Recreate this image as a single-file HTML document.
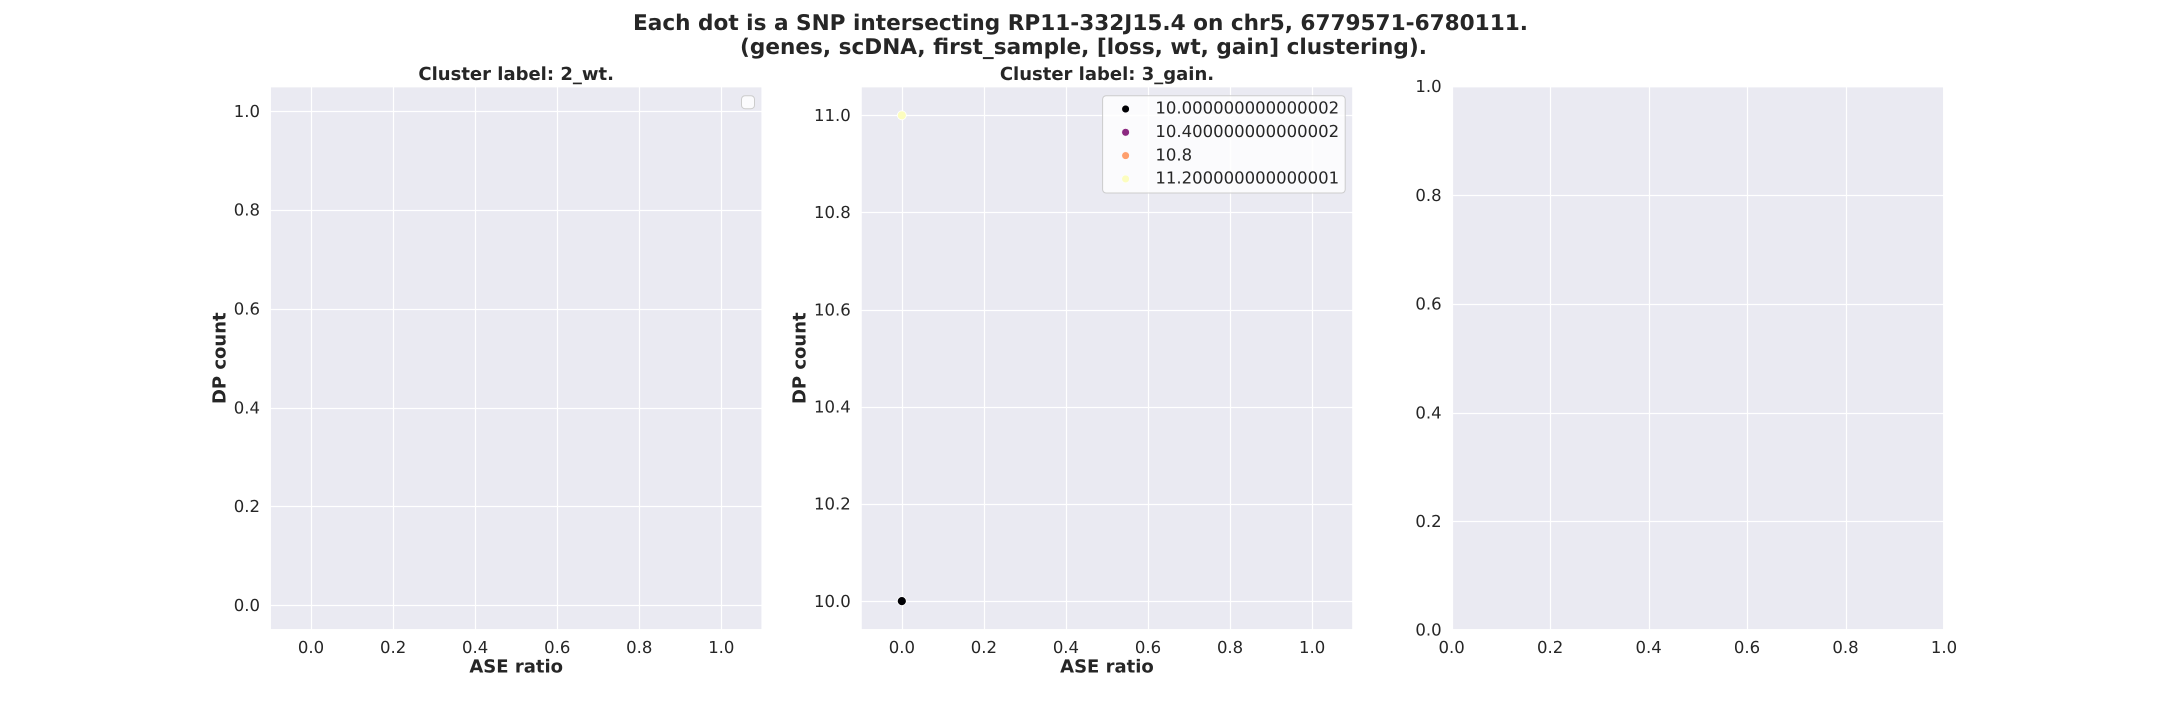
<!DOCTYPE html>
<html lang="en">
<head>
<meta charset="utf-8">
<title>SNP scatter by cluster</title>
<style>
  html, body { margin: 0; padding: 0; background: #ffffff; }
  body { width: 2160px; height: 720px; overflow: hidden; }
  svg { display: block; font-family: "DejaVu Sans", "Liberation Sans", sans-serif; text-rendering: geometricPrecision; }
  text { fill: #262626; }
  .tick { font-size: 16.5px; }
  .label { font-size: 18px; font-weight: bold; }
  .suptitle { font-size: 21.6px; font-weight: bold; }
</style>
</head>
<body>
<svg id="figure" xmlns="http://www.w3.org/2000/svg" width="2160" height="720" viewBox="0 0 2160 720">
  <text class="suptitle" x="1080.5" y="30" text-anchor="middle">Each dot is a SNP intersecting RP11-332J15.4 on chr5, 6779571-6780111.</text>
  <text class="suptitle" x="1083.5" y="54" text-anchor="middle">(genes, scDNA, first_sample, [loss, wt, gain] clustering).</text>
</svg>
<script>
const unitTicks = [0, 0.2, 0.4, 0.6, 0.8, 1];
const unitTickLabels = ["0.0", "0.2", "0.4", "0.6", "0.8", "1.0"];
const gainYTicks = [10, 10.2, 10.4, 10.6, 10.8, 11];
const gainYTickLabels = ["10.0", "10.2", "10.4", "10.6", "10.8", "11.0"];

const gainPointsX = [0, 0];
const gainPointsY = [10, 11];
const gainPointColors = ["#000004", "#fcfdbf"];

const legendLabels = ["10.000000000000002", "10.400000000000002", "10.8", "11.200000000000001"];
const legendColors = ["#000004", "#8c2981", "#fe9f6d", "#fcfdbf"];

const wtXLimits = [-0.1, 1.1];
const wtYLimits = [-0.05, 1.05];
const gainXLimits = [-0.1, 1.1];
const gainYLimits = [9.9405, 11.0595];
const blankXLimits = [0, 1];
const blankYLimits = [0, 1];

const svgNS = "http://www.w3.org/2000/svg";
const figure = document.getElementById("figure");

function make(parent, tag, attrs, content) {
  const node = document.createElementNS(svgNS, tag);
  for (const key in attrs) node.setAttribute(key, attrs[key]);
  if (content !== undefined) node.textContent = content;
  parent.appendChild(node);
  return node;
}

function scale(domain, range) {
  return function (v) {
    return range[0] + (v - domain[0]) / (domain[1] - domain[0]) * (range[1] - range[0]);
  };
}

function drawPanel(cfg) {
  const left = cfg.left, right = cfg.left + 492.35, top = 86.4, bottom = 630;
  const sx = scale(cfg.xLimits, [left, right]);
  const sy = scale(cfg.yLimits, [bottom, top]);

  const panel = make(figure, "g", {});
  
  

  const face = make(panel, "rect", { x: left, y: top, width: right - left, height: bottom - top, fill: "#eaeaf2" });
  
  

  cfg.xTicks.forEach(function (tick, i) {
    const px = Math.min(right, Math.max(left, Math.round(sx(tick)) + 0.5));
    const grid = make(panel, "line", { x1: px, x2: px, y1: top, y2: bottom, stroke: "#ffffff", "stroke-width": 1.2 });
    
    
    const label = make(panel, "text", { class: "tick", x: sx(tick), y: 652.8, "text-anchor": "middle" }, cfg.xTickLabels[i]);
    
    
  });

  cfg.yTicks.forEach(function (tick, i) {
    const py = Math.min(bottom, Math.max(top, Math.round(sy(tick)) + 0.5));
    const grid = make(panel, "line", { x1: left, x2: right, y1: py, y2: py, stroke: "#ffffff", "stroke-width": 1.2 });
    
    
    const label = make(panel, "text", { class: "tick", x: left - 10, y: sy(tick) + 5.7, "text-anchor": "end" }, cfg.yTickLabels[i]);
    
    
  });

  const spine = make(panel, "rect", { x: left, y: top, width: right - left, height: bottom - top, fill: "none", stroke: "#ffffff", "stroke-width": 1.9 });
  
  

  if (cfg.title) {
    const title = make(panel, "text", { class: "label", x: (left + right) / 2, y: 80, "text-anchor": "middle" }, cfg.title);
    
    
  }
  if (cfg.xLabel) {
    const xTitle = make(panel, "text", { class: "label", x: (left + right) / 2, y: 672.5, "text-anchor": "middle" }, cfg.xLabel);
    
    
  }
  if (cfg.yLabel) {
    const cy = (top + bottom) / 2, cx = cfg.yLabelX;
    const yTitle = make(panel, "text", { class: "label", x: cx, y: cy, "text-anchor": "middle", transform: "rotate(-90 " + cx + " " + cy + ")" }, cfg.yLabel);
    
    
  }

  (cfg.pointsX || []).forEach(function (x, i) {
    const dot = make(panel, "circle", { cx: sx(x), cy: sy(cfg.pointsY[i]), r: 4.5, fill: cfg.pointColors[i], stroke: "#ffffff", "stroke-width": 0.8 });
    
    
  });

  return panel;
}

const wtPanel = drawPanel({
  name: "panel-2-wt", left: 270, xLimits: wtXLimits, yLimits: wtYLimits,
  xTicks: unitTicks, xTickLabels: unitTickLabels, yTicks: unitTicks, yTickLabels: unitTickLabels,
  title: "Cluster label: 2_wt.", xLabel: "ASE ratio", yLabel: "DP count", yLabelX: 225.5
});

const emptyLegend = make(wtPanel, "rect", { x: 741.5, y: 95.7, width: 13, height: 13, rx: 3.5, fill: "#ffffff", "fill-opacity": 0.8, stroke: "#cccccc", "stroke-width": 1 });



const gainPanel = drawPanel({
  name: "panel-3-gain", left: 860.8, xLimits: gainXLimits, yLimits: gainYLimits,
  xTicks: unitTicks, xTickLabels: unitTickLabels, yTicks: gainYTicks, yTickLabels: gainYTickLabels,
  title: "Cluster label: 3_gain.", xLabel: "ASE ratio", yLabel: "DP count", yLabelX: 805.7,
  pointsX: gainPointsX, pointsY: gainPointsY, pointColors: gainPointColors
});

const legend = make(gainPanel, "g", {});



const legendBox = make(legend, "rect", { x: 1102.6, y: 95.7, width: 242.6, height: 97.3, rx: 3.5, fill: "#ffffff", "fill-opacity": 0.8, stroke: "#cccccc", "stroke-width": 1 });



legendLabels.forEach(function (text, i) {
  const rowY = 109 + i * 23.3;
  const swatch = make(legend, "circle", { cx: 1125.6, cy: rowY, r: 3.8, fill: legendColors[i], stroke: "#ffffff", "stroke-width": 0.5 });
  
  
  const entry = make(legend, "text", { class: "tick", x: 1155.4, y: rowY + 4.7 }, text);
  
  
});

drawPanel({
  name: "panel-empty", left: 1451.65, xLimits: blankXLimits, yLimits: blankYLimits,
  xTicks: unitTicks, xTickLabels: unitTickLabels, yTicks: unitTicks, yTickLabels: unitTickLabels
});
</script>
</body>
</html>
